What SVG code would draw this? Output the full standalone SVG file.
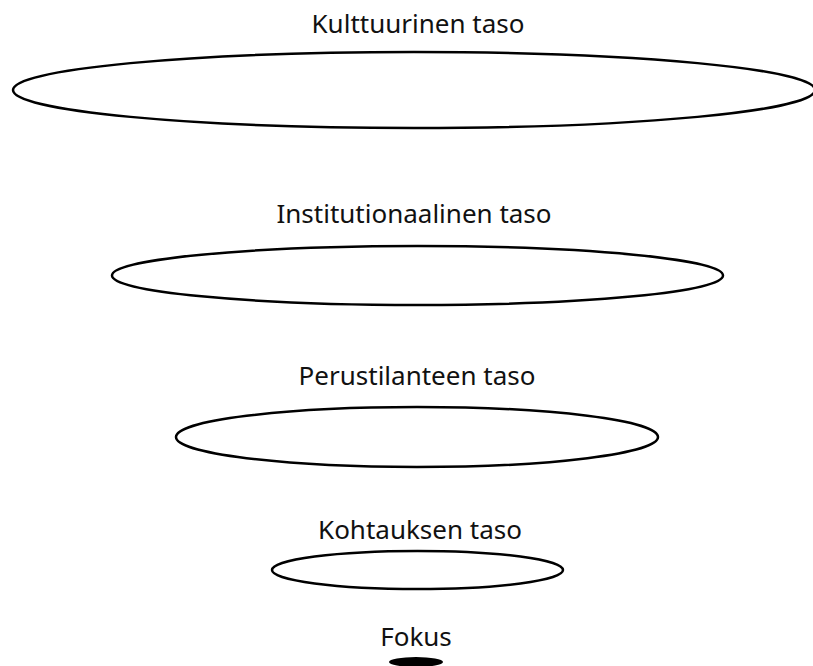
<svg xmlns="http://www.w3.org/2000/svg" width="813" height="666" viewBox="0 0 813 666">
<style>
.lv{fill:none;stroke:#000;stroke-width:2.5}
.lb{font-family:"Noto Sans",Lato,sans-serif;font-size:26px;fill:#111;text-anchor:middle}
</style>
<rect width="813" height="666" fill="#fff"/>
<g id="kulttuurinen">
<ellipse class="lv" cx="414" cy="90" rx="401" ry="38"/>
<text class="lb" x="418" y="33">Kulttuurinen taso</text>
</g>
<g id="institutionaalinen">
<ellipse class="lv" cx="417.5" cy="275.5" rx="305.5" ry="29.5"/>
<text class="lb" x="414" y="223">Institutionaalinen taso</text>
</g>
<g id="perustilanteen">
<ellipse class="lv" cx="417" cy="437" rx="241" ry="30"/>
<text class="lb" x="417" y="385">Perustilanteen taso</text>
</g>
<g id="kohtauksen">
<ellipse class="lv" cx="417.5" cy="570" rx="145.5" ry="19"/>
<text class="lb" x="420" y="539">Kohtauksen taso</text>
</g>
<g id="fokus">
<ellipse cx="416" cy="662" rx="27" ry="5" fill="#000"/>
<text class="lb" x="416" y="646">Fokus</text>
</g>
</svg>
